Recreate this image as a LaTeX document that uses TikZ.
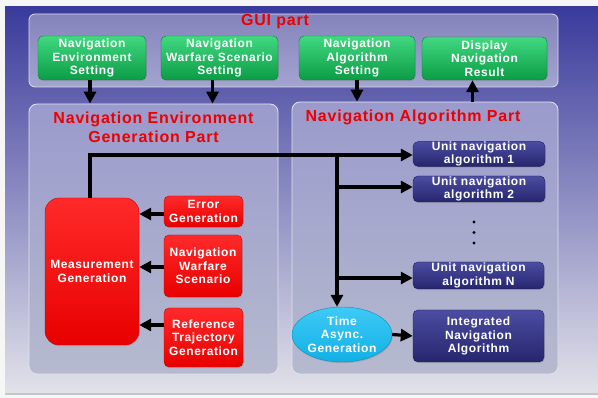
\documentclass[tikz,border=0pt]{standalone}
\usepackage{fontspec}
\setmainfont{Liberation Sans}[LetterSpace=5]
\usetikzlibrary{arrows.meta,shadows,shapes.geometric}
\definecolor{bgtop}{HTML}{3A3A9C}
\definecolor{bgmid}{HTML}{8A8AC0}
\definecolor{bgbot}{HTML}{E2E2EA}
\definecolor{gtop}{HTML}{40D880}
\definecolor{gbot}{HTML}{0C9C46}
\definecolor{rtop}{HTML}{FF2A2A}
\definecolor{rbot}{HTML}{E80000}
\definecolor{ntop}{HTML}{4C4CA2}
\definecolor{nbot}{HTML}{26266E}
\definecolor{ctop}{HTML}{3ECAF6}
\definecolor{cbot}{HTML}{12B0E6}
\definecolor{ttl}{HTML}{EE0000}
\definecolor{ptop}{HTML}{9A9ACC}
\definecolor{pbot}{HTML}{B6BACE}
\tikzset{
  panel/.style={draw=white!75!bgmid, line width=0.8pt, rounded corners=8pt, top color=ptop, bottom color=pbot, inner sep=0pt},
  guipanel/.style={draw=white!70!bgmid, line width=0.8pt, rounded corners=6pt, top color=ptop!90!black!95!blue, bottom color=ptop!90!white, inner sep=0pt},
  box/.style={rounded corners=5pt, text=white, font=\bfseries\fontsize{12}{13.5}\selectfont, align=center, inner sep=0pt,
    drop shadow={shadow xshift=0.8pt, shadow yshift=-1.2pt, opacity=0.35}},
  greenbox/.style={box, top color=gtop, bottom color=gbot, draw=gbot!80!black, line width=0.4pt},
  redbox/.style={box, top color=rtop, bottom color=rbot, draw=rbot!85!black, line width=0.4pt},
  navybox/.style={box, top color=ntop, bottom color=nbot, draw=nbot!80!black, line width=0.4pt},
  cyanell/.style={box, ellipse, top color=ctop, bottom color=cbot, draw=cbot!80!black, line width=0.4pt},
  title/.style={text=ttl, font=\bfseries\fontsize{16}{19}\selectfont, align=center, inner sep=0pt},
  arr/.style={line width=3.2pt, -{Triangle[length=12pt,width=12pt]}},
  ln/.style={line width=3.2pt}
}
\begin{document}
\begin{tikzpicture}[x=1pt,y=-1pt]
\useasboundingbox (0,0) rectangle (598,398);
\fill[white!93!gray] (0,0) rectangle (598,398);
\shade[top color=bgtop, middle color=bgmid, bottom color=bgbot] (5,7) rectangle (598,393);
\fill[gray!45] (5,393) rectangle (598,395);

% panels
\node[guipanel, minimum width=529pt, minimum height=73pt] (gui) at (293.5,50.5) {};
\node[panel, minimum width=249pt, minimum height=270pt] (envpanel) at (153.5,239) {};
\node[panel, minimum width=266pt, minimum height=272pt] (algpanel) at (425,238) {};

% titles
\node[title] (guititle) at (275,22) {GUI part};
\node[title] (envtitle) at (153.5,127.5) {Navigation Environment\\Generation Part};
\node[title] (algtitle) at (413,117) {Navigation Algorithm Part};

% GUI boxes
\node[greenbox, minimum width=108pt, minimum height=44pt] (envset) at (92,58) {Navigation\\Environment\\Setting};
\node[greenbox, minimum width=117pt, minimum height=44pt] (warset) at (219.5,58) {Navigation\\Warfare Scenario\\Setting};
\node[greenbox, minimum width=116pt, minimum height=44pt] (algset) at (357,58) {Navigation\\Algorithm\\Setting};
\node[greenbox, minimum width=125pt, minimum height=43pt] (disp) at (484.5,58.5) {Display\\Navigation\\Result};

% env part
\node[redbox, rounded corners=14pt, minimum width=94pt, minimum height=147pt] (meas) at (92,271.5) {Measurement\\Generation};
\node[redbox, minimum width=79pt, minimum height=31pt] (err) at (203.5,211.5) {Error\\Generation};
\node[redbox, minimum width=78pt, minimum height=62pt] (nws) at (203,266) {Navigation\\Warfare\\Scenario};
\node[redbox, minimum width=79pt, minimum height=59pt] (ref) at (203.5,337.5) {Reference\\Trajectory\\Generation};

% algorithm part
\node[navybox, minimum width=132pt, minimum height=24pt] (u1) at (479,154) {Unit navigation\\algorithm 1};
\node[navybox, minimum width=132pt, minimum height=26pt] (u2) at (479,189) {Unit navigation\\algorithm 2};
\node[navybox, minimum width=131pt, minimum height=27pt] (uN) at (478.5,275.5) {Unit navigation\\algorithm N};
\node[navybox, minimum width=131pt, minimum height=52pt] (integ) at (478.5,336) {Integrated\\Navigation\\Algorithm};
\node[cyanell, minimum width=100pt, minimum height=55pt] (time) at (342,334.5) {Time\\Async.\\Generation};

% dots
\fill (474,222) circle (1.7pt);
\fill (474,232.5) circle (1.7pt);
\fill (474,243) circle (1.7pt);

% GUI arrows
\draw[arr] ([xshift=-2pt]envset.south) -- ([xshift=-2pt]envset.south |- envpanel.north);
\draw[arr] ([xshift=-7pt]warset.south) -- ([xshift=-7pt]warset.south |- envpanel.north);
\draw[arr] (algset.south) -- (algset.south |- algpanel.north);
\draw[arr] ([xshift=-12pt]disp.south |- algpanel.north) -- ([xshift=-12pt]disp.south);

% env arrows
\draw[arr] ([yshift=-2.5pt]err.west) coordinate (ea) -- (ea -| meas.east);
\draw[arr] ([yshift=-1pt]nws.west) coordinate (na) -- (na -| meas.east);
\draw[arr] ([yshift=12.5pt]ref.west) coordinate (ra) -- (ra -| meas.east);

% measurement to algorithms
\draw[arr] ([xshift=-2pt]meas.north) |- ([yshift=-1pt]u1.west);
\coordinate (j) at (337,155);
\draw[arr] (j) -- (j |- time.north);
\draw[arr] (j |- u2.west) ++(0,-2) coordinate (j2) -- (j2 -| u2.west);
\draw[arr] (j |- uN.west) ++(0,2.5) coordinate (jN) -- (jN -| uN.west);
\draw[arr] (time.east) -- (integ.west);
\end{tikzpicture}
\end{document}
